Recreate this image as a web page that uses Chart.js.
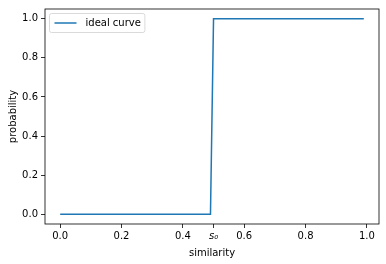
<!DOCTYPE html>
<html>
<head>
<meta charset="utf-8">
<script src="https://cdn.jsdelivr.net/npm/chart.js@4"></script>
<style>
  html, body { margin: 0; padding: 0; background: #fff; }
  #wrap { width: 386px; height: 264px; }
</style>
</head>
<body>
<div id="wrap"><canvas id="curveChart"></canvas></div>
<script>
// step curve
const similarity = [0, 0.49, 0.50, 0.99];
const probability = [0, 0, 1, 1];
const xTicks = [0, 0.2, 0.4, 0.5, 0.6, 0.8, 1.0];
const xTickLabels = ['0.0', '0.2', '0.4', 's\u2080', '0.6', '0.8', '1.0'];
const yTicks = [0, 0.2, 0.4, 0.6, 0.8, 1.0];

const FONT = 'DejaVu Sans';

// box around the axes + legend in the upper-left corner
const framePlugin = {
    id: 'frame',
    afterDraw(chart) {
        const c = chart.ctx;
        const a = chart.chartArea;
        c.save();
        c.strokeStyle = '#000';
        c.lineWidth = 0.8;
        c.strokeRect(a.left, a.top, a.right - a.left, a.bottom - a.top);

        const ds = chart.data.datasets[0];
        c.font = '10px "' + FONT + '"';
        const tw = c.measureText(ds.label).width;
        const bx = a.left + 4.5, by = a.top + 4.5;
        const bw = 40 + tw, bh = 19;
        c.fillStyle = 'rgba(255,255,255,0.8)';
        c.strokeStyle = '#d0d0d0';
        c.lineWidth = 0.8;
        c.beginPath();
        c.roundRect(bx, by, bw, bh, 2);
        c.fill();
        c.stroke();
        c.strokeStyle = ds.borderColor;
        c.lineWidth = 1.5;
        c.beginPath();
        c.moveTo(bx + 5, by + bh / 2);
        c.lineTo(bx + 27, by + bh / 2);
        c.stroke();
        c.fillStyle = '#000';
        c.textBaseline = 'middle';
        c.fillText(ds.label, bx + 36, by + bh / 2 + 0.5);
        c.restore();
    }
};

const ctx = document.getElementById('curveChart').getContext('2d');

const curveChart = new Chart(ctx, {
    type: 'line',
    data: {
        datasets: [
            {
                label: 'ideal curve',
                data: similarity.map((s, i) => ({ x: s, y: probability[i] })),
                borderColor: '#1f77b4',
                borderWidth: 1.5,
                pointRadius: 0,
                tension: 0,
                fill: false
            }
        ]
    },
    options: {
        responsive: true,
        maintainAspectRatio: false,
        animation: false,
        layout: { padding: { top: 7, right: 7, left: 7, bottom: 5 } },
        plugins: {
            legend: { display: false },
            tooltip: { enabled: false }
        },
        scales: {
            x: {
                type: 'linear',
                min: -0.0495,
                max: 1.0395,
                afterBuildTicks(scale) {
                    scale.ticks = xTicks.map(v => ({ value: v }));
                },
                afterFit(scale) { scale.height = 35; },
                ticks: {
                    color: '#000',
                    padding: 2,
                    maxRotation: 0,
                    autoSkip: false,
                    font: (c) => ({
                        family: FONT,
                        size: 10,
                        style: c.tick && c.tick.value === 0.5 ? 'italic' : 'normal'
                    }),
                    callback: (v) => {
                        const i = xTicks.indexOf(v);
                        return i >= 0 ? xTickLabels[i] : '';
                    }
                },
                grid: {
                    drawOnChartArea: false,
                    drawTicks: true,
                    tickLength: 4,
                    color: '#000',
                    lineWidth: 0.8
                },
                border: { display: false },
                title: {
                    display: true,
                    text: 'similarity',
                    color: '#000',
                    font: { family: FONT, size: 10 },
                    padding: { top: 1, bottom: 0 }
                }
            },
            y: {
                type: 'linear',
                min: -0.05,
                max: 1.05,
                afterBuildTicks(scale) {
                    scale.ticks = yTicks.map(v => ({ value: v }));
                },
                afterFit(scale) { scale.width = 38; },
                ticks: {
                    color: '#000',
                    padding: 3,
                    font: { family: FONT, size: 10 },
                    callback: (v) => v.toFixed(1)
                },
                grid: {
                    drawOnChartArea: false,
                    drawTicks: true,
                    tickLength: 4,
                    color: '#000',
                    lineWidth: 0.8
                },
                border: { display: false },
                title: {
                    display: true,
                    text: 'probability',
                    color: '#000',
                    font: { family: FONT, size: 10 },
                    padding: { top: 0, bottom: 2 }
                }
            }
        }
    },
    plugins: [framePlugin]
});
</script>
</body>
</html>
